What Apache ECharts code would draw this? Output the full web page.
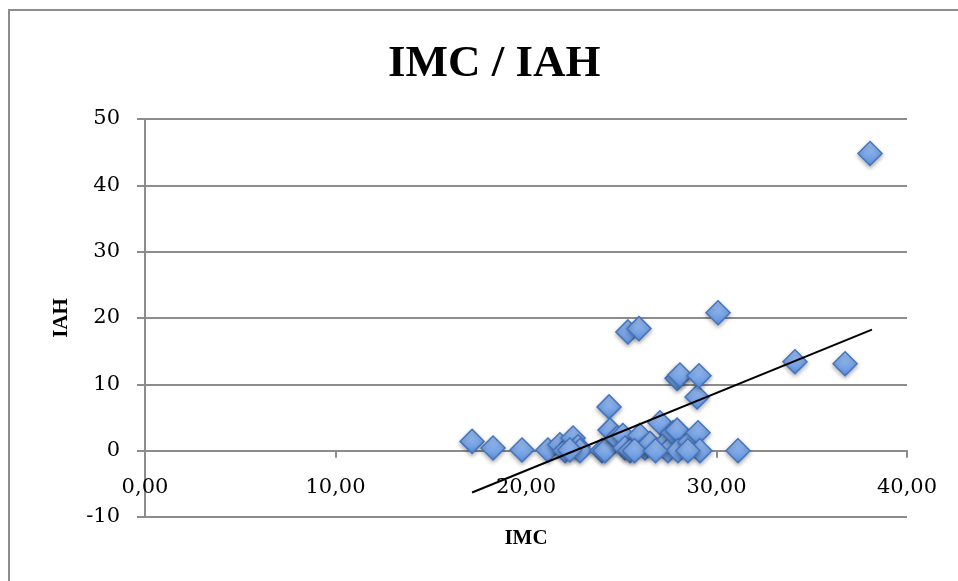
<!DOCTYPE html>
<html>
<head>
<meta charset="utf-8">
<script src="https://cdn.jsdelivr.net/npm/echarts@6/dist/echarts.min.js"></script>
<style>
html,body{margin:0;padding:0;background:#fff;}
#chart{width:958px;height:581px;}
</style>
</head>
<body>
<div id="chart"></div>
<script>
// IMC values (x) and IAH values (y)
var imc = [17.17, 18.27, 19.79, 21.15, 21.78, 22.05, 22.47, 22.73, 22.83, 22.3,
           23.99, 24.15, 24.36, 24.41, 24.78, 25.09, 25.2, 25.46, 25.35, 25.93,
           25.98, 26.25, 26.51, 27.03, 27.3, 27.45, 27.72, 27.93, 27.98, 27.93,
           28.08, 28.6, 29.03, 29.13, 28.98, 29.08, 30.08, 31.13, 34.12, 36.75,
           38.06, 25.7, 26.8, 28.5];
var iah = [1.4, 0.4, 0.1, 0.1, 0.9, 0, 1.9, 0.6, 0, 0.1,
           0, 0, 6.6, 3.1, 1.9, 2.3, 0.4, 0, 17.9, 18.4,
           2.3, 0.4, 1.1, 4.2, 1.1, 0, 2.7, 3.1, 0, 10.9,
           11.4, 1.3, 2.7, 0, 8.1, 11.3, 20.8, 0, 13.4, 13.1,
           44.8, 0, 0, 0];
// Trend line endpoints
var trendX = [17.17, 38.16];
var trendY = [-6.3, 18.25];
var xTicks = [0, 10, 20, 30, 40];
var yTicks = [-10, 0, 10, 20, 30, 40, 50];

var points = imc.map(function (v, i) { return [v, iah[i]]; });
var trend = trendX.map(function (v, i) { return [v, trendY[i]]; });

var chart = echarts.init(document.getElementById('chart'));
var gray = '#8c8c8c';
chart.setOption({
  animation: false,
  backgroundColor: '#ffffff',
  title: {
    text: 'IMC / IAH',
    left: 383,
    top: 37,
    textStyle: { fontFamily: 'Liberation Serif', fontWeight: 'bold', fontSize: 45, color: '#000' }
  },
  graphic: [{
    type: 'rect',
    shape: { x: 9, y: 10, width: 980, height: 620 },
    style: { fill: 'none', stroke: gray, lineWidth: 2 },
    silent: true
  }],
  grid: { left: 145, right: 51, top: 119, bottom: 64, containLabel: false, outerBoundsMode: 'none' },
  xAxis: {
    type: 'value',
    min: xTicks[0], max: xTicks[xTicks.length - 1], interval: 10,
    name: 'IMC', nameLocation: 'middle', nameGap: 11,
    nameTextStyle: { fontFamily: 'Liberation Serif', fontWeight: 'bold', fontSize: 21, color: '#000' },
    axisLine: { show: true, onZero: true, lineStyle: { color: gray, width: 2 } },
    axisTick: { show: true, inside: false, length: 7, lineStyle: { color: gray, width: 2 } },
    axisLabel: {
      margin: -40, fontFamily: 'DejaVu Serif', fontSize: 21, color: '#000',
      formatter: function (v) { return v.toFixed(2).replace('.', ','); }
    },
    splitLine: { show: false }
  },
  yAxis: {
    type: 'value',
    min: yTicks[0], max: yTicks[yTicks.length - 1], interval: 10,
    name: 'IAH', nameLocation: 'middle', nameGap: 73, nameRotate: 90,
    nameTextStyle: { fontFamily: 'Liberation Serif', fontWeight: 'bold', fontSize: 21, color: '#000' },
    axisLine: { show: true, onZero: false, lineStyle: { color: gray, width: 2 } },
    axisTick: { show: true, inside: false, length: 8, lineStyle: { color: gray, width: 2 } },
    axisLabel: { margin: 25, fontFamily: 'DejaVu Serif', fontSize: 21, color: '#000' },
    splitLine: { show: true, lineStyle: { color: gray, width: 2 } }
  },
  series: [{
    type: 'scatter',
    data: points,
    symbol: 'diamond',
    symbolSize: 24,
    z: 3,
    itemStyle: {
      opacity: 1,
      color: new echarts.graphic.LinearGradient(0, 0, 0, 1, [
        { offset: 0, color: '#a3c4f5' },
        { offset: 1, color: '#5f90dc' }
      ]),
      borderColor: '#4275c0',
      borderWidth: 1.5,
      shadowColor: 'rgba(0,0,0,0.3)',
      shadowBlur: 4,
      shadowOffsetY: 2
    }
  }, {
    type: 'line',
    data: trend,
    symbol: 'none',
    z: 4,
    lineStyle: { color: '#000', width: 2 }
  }]
});
</script>
</body>
</html>
